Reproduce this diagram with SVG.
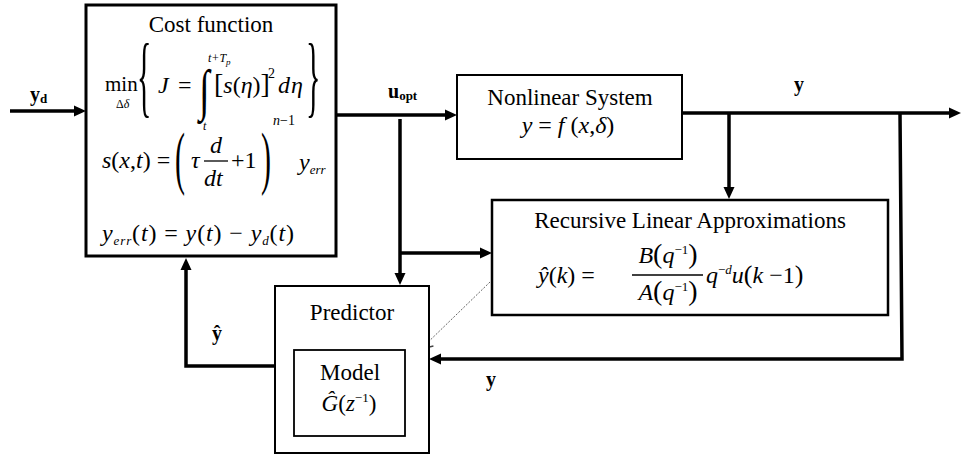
<svg xmlns="http://www.w3.org/2000/svg" width="961" height="456" viewBox="0 0 961 456" font-family="'Liberation Serif', 'DejaVu Serif', serif">
<style>
text{font-family:'Liberation Serif','DejaVu Serif',serif;fill:#000}
.t{font-size:23px}
.m{font-size:24px}
.i{font-style:italic}
.b{font-weight:bold}
.box{fill:#fff;stroke:#000}
.c{fill:none;stroke:#000;stroke-width:3.5}
</style>
<defs>
<marker id="ah" markerUnits="userSpaceOnUse" markerWidth="14" markerHeight="12" refX="4" refY="5.5" orient="auto" viewBox="0 0 14 11">
<path d="M0,0 L12,5.5 L0,11 z" fill="#000"/>
</marker>
<marker id="oh" markerUnits="userSpaceOnUse" markerWidth="16" markerHeight="16" refX="13" refY="8" orient="auto" viewBox="0 0 16 16">
<path d="M2,1.5 L13,8 L2,14.5" fill="none" stroke="#444" stroke-width="1.3"/>
</marker>
</defs>
<rect width="961" height="456" fill="#fff"/>

<g id="connectors">
<line class="c" x1="10" y1="111" x2="78" y2="111" marker-end="url(#ah)"/>
<line class="c" x1="336" y1="115" x2="449" y2="115" marker-end="url(#ah)"/>
<line class="c" x1="400" y1="119" x2="400" y2="277" marker-end="url(#ah)"/>
<line class="c" x1="400" y1="253" x2="484" y2="253" marker-end="url(#ah)"/>
<line class="c" x1="682" y1="113" x2="953" y2="113" marker-end="url(#ah)"/>
<line class="c" x1="729" y1="113" x2="729" y2="191" marker-end="url(#ah)"/>
<polyline class="c" points="900,113 902,359 437,359" marker-end="url(#ah)"/>
<polyline class="c" points="275,366 186,366 186,266" marker-end="url(#ah)"/>
<line x1="490" y1="282" x2="421" y2="349" stroke="#666" stroke-width="1" stroke-dasharray="2,1.5" marker-end="url(#oh)"/>
<text class="b" x="30" y="101" font-size="20">y<tspan font-size="13" dy="2">d</tspan></text>
<text class="b" x="388" y="98" font-size="20">u<tspan font-size="13" dy="2">opt</tspan></text>
<text class="b" x="794" y="91" font-size="20">y</text>
<text class="b" x="212" y="340" font-size="20">ŷ</text>
<text class="b" x="486" y="386" font-size="20">y</text>
</g>

<g id="cost">
<rect class="box" x="86" y="5" width="250" height="251" stroke-width="3"/>
<text class="t" x="211" y="32" text-anchor="middle">Cost function</text>
<text x="105" y="91" font-size="21">min</text>
<text x="116" y="108" font-size="12">Δ<tspan class="i">δ</tspan></text>
<text font-size="30" transform="translate(137,106) scale(1,3.0)">{</text>
<text class="m i" x="158" y="93">J</text>
<text class="m" x="178" y="93">=</text>
<text font-size="38" transform="translate(199,109) scale(1,1.48)">∫</text>
<text class="i" x="208" y="62" font-size="12">t+T<tspan font-size="9" dy="3">p</tspan></text>
<text class="i" x="203" y="130" font-size="12">t</text>
<text class="m" x="214" y="93"><tspan font-size="28">[</tspan><tspan class="i">s</tspan>(<tspan class="i">η</tspan>)<tspan font-size="28">]</tspan></text>
<text x="268" y="78" font-size="14">2</text>
<text class="m i" x="278" y="93">d</text>
<text class="m i" x="291" y="93">η</text>
<text font-size="30" transform="translate(306,106) scale(1,3.0)">}</text>

<text class="m" x="102" y="168"><tspan class="i">s</tspan>(<tspan class="i">x</tspan>,<tspan class="i">t</tspan>) =</text>
<text font-size="30" transform="translate(175,181) scale(1,2.3)">(</text>
<text class="m i" x="191" y="168">τ</text>
<text class="m i" x="210" y="153">d</text>
<line x1="204" y1="161" x2="228" y2="161" stroke="#000" stroke-width="1.3"/>
<text class="m i" x="204" y="186">dt</text>
<text class="m" x="231" y="168">+1</text>
<text font-size="30" transform="translate(261,181) scale(1,2.3)">)</text>
<text x="273" y="125" font-size="14"><tspan class="i">n</tspan>−1</text>
<text class="m i" x="299" y="170">y<tspan font-size="13" dy="4">err</tspan></text>

<text class="m" x="102" y="241" textLength="192" lengthAdjust="spacing"><tspan class="i">y</tspan><tspan class="i" font-size="13" dy="4">err</tspan><tspan dy="-4">(<tspan class="i">t</tspan>) = <tspan class="i">y</tspan>(<tspan class="i">t</tspan>) − <tspan class="i">y</tspan></tspan><tspan class="i" font-size="13" dy="4">d</tspan><tspan dy="-4">(<tspan class="i">t</tspan>)</tspan></text>
</g>

<g id="nonlinear">
<rect class="box" x="457" y="75" width="225" height="84" stroke-width="2"/>
<text class="t" x="570" y="105" text-anchor="middle">Nonlinear System</text>
<text class="m" x="568" y="133" text-anchor="middle"><tspan class="i">y</tspan> = <tspan class="i">f</tspan> (<tspan class="i">x</tspan>,<tspan class="i">δ</tspan>)</text>
</g>

<g id="recursive">
<rect class="box" x="492" y="200" width="396" height="115" stroke-width="2.5"/>
<text class="t" x="690" y="228" text-anchor="middle">Recursive Linear Approximations</text>
<text class="m" x="538" y="283"><tspan class="i">ŷ</tspan>(<tspan class="i">k</tspan>) =</text>
<text class="m" x="668" y="263" text-anchor="middle"><tspan class="i">B</tspan><tspan font-size="28">(</tspan><tspan class="i">q</tspan><tspan font-size="13" dy="-9">−1</tspan><tspan dy="9" font-size="28">)</tspan></text>
<line x1="632" y1="275" x2="703" y2="275" stroke="#000" stroke-width="1.3"/>
<text class="m" x="668" y="300" text-anchor="middle"><tspan class="i">A</tspan><tspan font-size="28">(</tspan><tspan class="i">q</tspan><tspan font-size="13" dy="-9">−1</tspan><tspan dy="9" font-size="28">)</tspan></text>
<text class="m" x="706" y="283"><tspan class="i">q</tspan><tspan font-size="13" dy="-9">−<tspan class="i">d</tspan></tspan><tspan class="i" dy="9">u</tspan><tspan font-size="26">(</tspan><tspan class="i">k</tspan> −1<tspan font-size="26">)</tspan></text>
</g>

<g id="predictor">
<rect class="box" x="275" y="286" width="154" height="167" stroke-width="2"/>
<text class="t" x="352" y="320" text-anchor="middle">Predictor</text>
</g>

<g id="model">
<rect class="box" x="294" y="350" width="111" height="86" stroke-width="1.8"/>
<text class="t" x="350" y="380" text-anchor="middle">Model</text>
<text class="t" x="349" y="411" text-anchor="middle"><tspan class="i">Ĝ</tspan>(<tspan class="i">z</tspan><tspan font-size="13" dy="-9">−1</tspan><tspan dy="9">)</tspan></text>
</g>
</svg>
